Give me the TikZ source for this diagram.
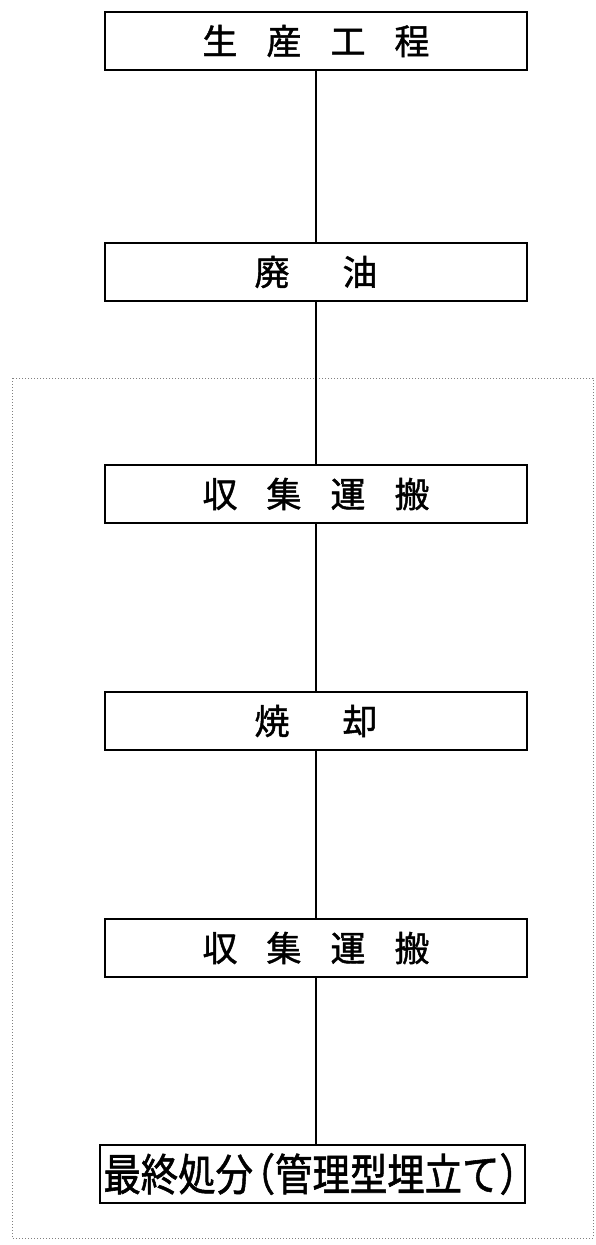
\documentclass[tikz,border=0pt]{standalone}
\usepackage{fontspec}
\setmainfont{Noto Sans CJK JP}[FakeBold=1.3]
\usetikzlibrary{positioning}
\newcommand{\kgap}{\hspace{29pt}}
\newcommand{\wgap}{\hspace{53pt}}

\begin{document}
\begin{tikzpicture}[x=1pt,y=-1pt,
                    flow node/.style={rectangle,draw,fill=white,line width=1.8pt,
                                      minimum width=422pt,minimum height=58pt,
                                      inner sep=0pt,font=\fontsize{35}{40}\selectfont},
                    flow line/.style={line width=1.2pt}
                   ]
   \useasboundingbox (0,0) rectangle (595,1245);
   % area boundary
   \draw[dotted,gray,line width=1pt] (12,378) rectangle (593,1238);
   \node[flow node] (seisan) at (316,41) {生\kgap 産\kgap 工\kgap 程};
   \node[flow node] (haiyu) at (316,272) {廃\wgap 油};
   \node[flow node] (shushu1) at (316,494) {収\kgap 集\kgap 運\kgap 搬};
   \node[flow node] (shokyaku) at (316,721) {焼\wgap 却};
   \node[flow node] (shushu2) at (316,948) {収\kgap 集\kgap 運\kgap 搬};
   \node[flow node,minimum width=425pt] (saishu) at (312.5,1174)
        {\scalebox{0.85}[1]{\fontsize{44}{46}\selectfont 最終処分\kern-18pt（管理型埋立て）\kern-18pt}};
   \draw[flow line] (seisan) -- (haiyu);
   \draw[flow line] (haiyu) -- (shushu1);
   \draw[flow line] (shushu1) -- (shokyaku);
   \draw[flow line] (shokyaku) -- (shushu2);
   \draw[flow line] (shushu2) -- (shushu2 |- saishu.north);
 \end{tikzpicture}
\end{document}
